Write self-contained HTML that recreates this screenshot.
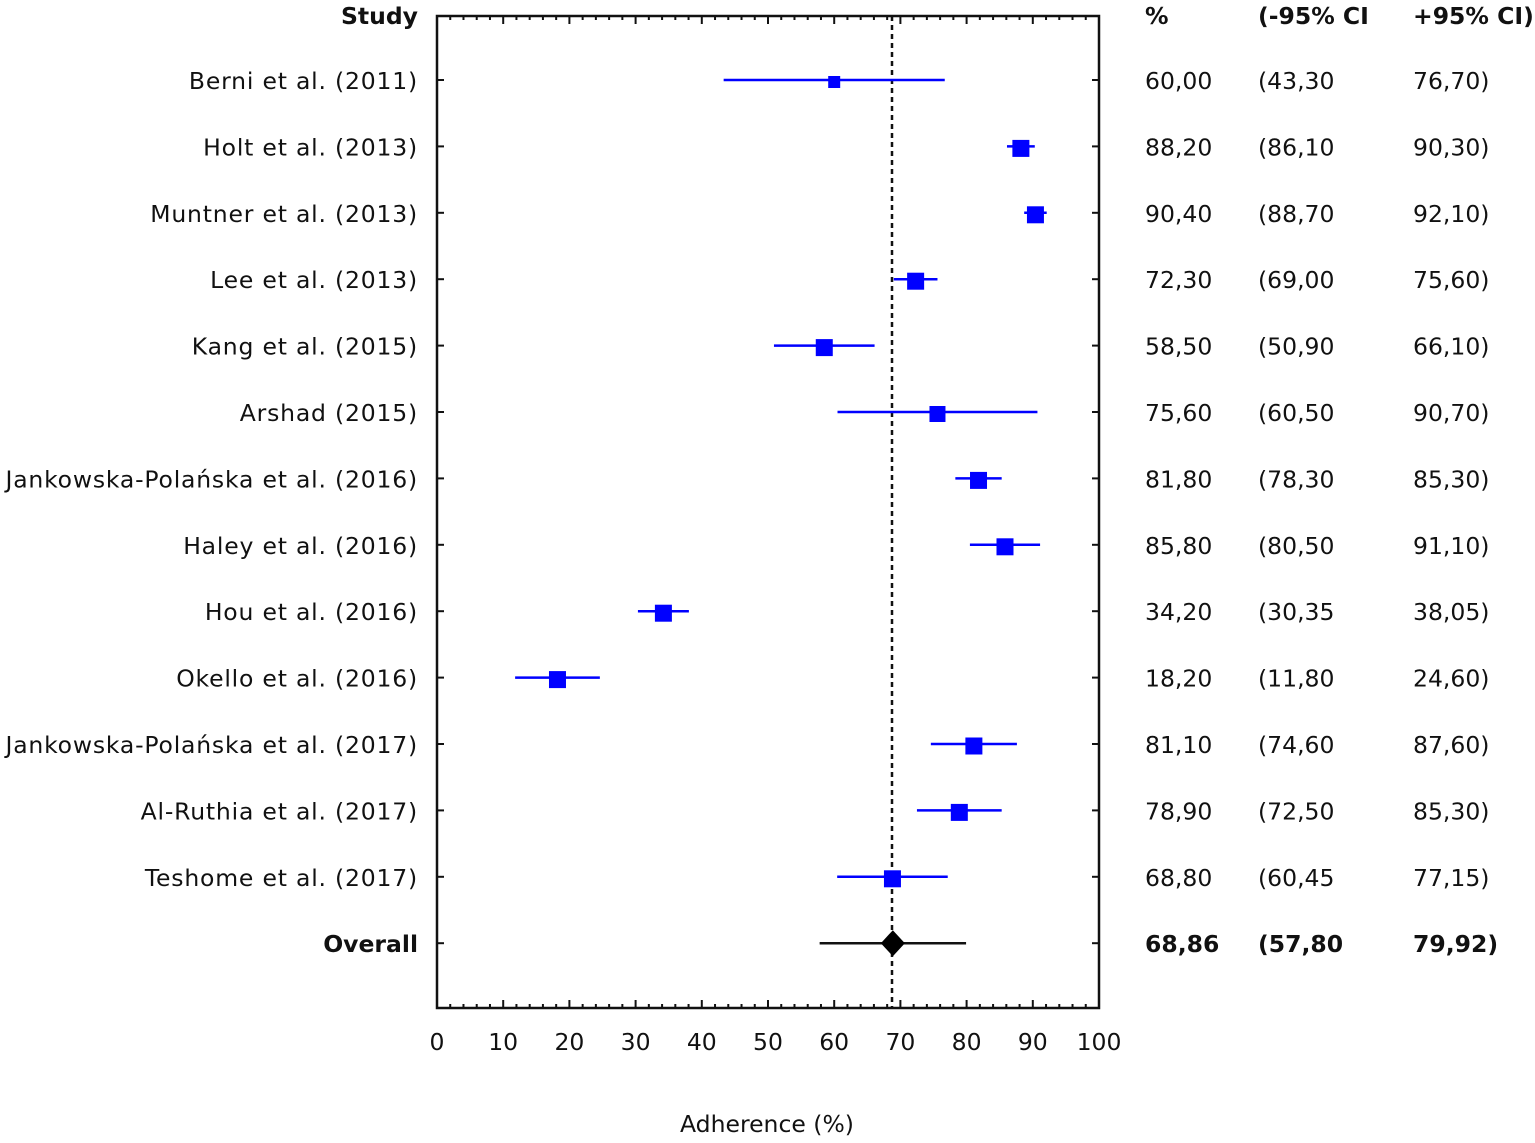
<!DOCTYPE html>
<html><head><meta charset="utf-8"><style>
html,body{margin:0;padding:0;background:#fff;width:1535px;height:1143px;overflow:hidden}
svg text{font-family:"DejaVu Sans",Verdana,sans-serif;font-size:23.5px;fill:#111}
svg text.lb{letter-spacing:0.8px}
</style></head><body>
<svg id="s" width="1535" height="1143" viewBox="0 0 1535 1143" xmlns="http://www.w3.org/2000/svg">
<rect x="437" y="16" width="662" height="992" fill="none" stroke="#111" stroke-width="2.5"/>
<line x1="892" y1="16" x2="892" y2="1008" stroke="#111" stroke-width="2.5" stroke-dasharray="5,4"/>
<text x="418" y="24" text-anchor="end" font-weight="bold">Study</text>
<text x="1145" y="24" font-weight="bold">%</text>
<text x="1258" y="24" font-weight="bold">(-95% CI</text>
<text x="1413" y="24" font-weight="bold">+95% CI)</text>
<text x="767" y="1132" text-anchor="middle">Adherence (%)</text>
<g id="g"></g>
</svg>
<script>
var g=document.getElementById('g'),h='';
function X(v){return 437+6.62*v;}
for(var v=0;v<=100;v+=2){var x=X(v),L=(v%10==0)?8:4;
h+='<line x1="'+x+'" y1="16" x2="'+x+'" y2="'+(16+L)+'" stroke="#111" stroke-width="2"/>';
h+='<line x1="'+x+'" y1="1008" x2="'+x+'" y2="'+(1008-L)+'" stroke="#111" stroke-width="2"/>';
if(v%10==0)h+='<text x="'+x+'" y="1050" text-anchor="middle">'+v+'</text>';}
var d=[["Berni et al. (2011)",60,43.3,76.7,"60,00","(43,30","76,70)",12],
["Holt et al. (2013)",88.2,86.1,90.3,"88,20","(86,10","90,30)",17],
["Muntner et al. (2013)",90.4,88.7,92.1,"90,40","(88,70","92,10)",17],
["Lee et al. (2013)",72.3,69,75.6,"72,30","(69,00","75,60)",17],
["Kang et al. (2015)",58.5,50.9,66.1,"58,50","(50,90","66,10)",17],
["Arshad (2015)",75.6,60.5,90.7,"75,60","(60,50","90,70)",16],
["Jankowska-Polańska et al. (2016)",81.8,78.3,85.3,"81,80","(78,30","85,30)",17],
["Haley et al. (2016)",85.8,80.5,91.1,"85,80","(80,50","91,10)",17],
["Hou et al. (2016)",34.2,30.35,38.05,"34,20","(30,35","38,05)",17],
["Okello et al. (2016)",18.2,11.8,24.6,"18,20","(11,80","24,60)",17],
["Jankowska-Polańska et al. (2017)",81.1,74.6,87.6,"81,10","(74,60","87,60)",17],
["Al-Ruthia et al. (2017)",78.9,72.5,85.3,"78,90","(72,50","85,30)",17],
["Teshome et al. (2017)",68.8,60.45,77.15,"68,80","(60,45","77,15)",17],
["Overall",68.86,57.8,79.92,"68,86","(57,80","79,92)",0]];
d.forEach(function(r,i){var y=80+66.4*i,b=(i==13)?' font-weight="bold"':'',lc=(i==13)?'':' class="lb"';
h+='<line x1="437" y1="'+y+'" x2="444" y2="'+y+'" stroke="#111" stroke-width="2"/>';
h+='<line x1="1092" y1="'+y+'" x2="1099" y2="'+y+'" stroke="#111" stroke-width="2"/>';
h+='<text x="418" y="'+(y+9)+'" text-anchor="end"'+b+lc+'>'+r[0]+'</text>';
h+='<text x="1145" y="'+(y+9)+'"'+b+'>'+r[4]+'</text>';
h+='<text x="1258" y="'+(y+9)+'"'+b+'>'+r[5]+'</text>';
h+='<text x="1413" y="'+(y+9)+'"'+b+'>'+r[6]+'</text>';
var c=X(r[1]);
if(i<13){h+='<line x1="'+X(r[2])+'" y1="'+y+'" x2="'+X(r[3])+'" y2="'+y+'" stroke="#0000ff" stroke-width="2.5"/>';
var s=r[7];h+='<rect x="'+(c-s/2)+'" y="'+(y+2-s/2)+'" width="'+s+'" height="'+s+'" fill="#0000ff"/>';}
else{h+='<line x1="'+X(r[2])+'" y1="'+y+'" x2="'+X(r[3])+'" y2="'+y+'" stroke="#111" stroke-width="2.5"/>';
h+='<polygon points="'+(c-12)+','+y+' '+c+','+(y-13)+' '+(c+12)+','+y+' '+c+','+(y+13)+'" fill="#000"/>';}
});
g.innerHTML=h;
</script>
</body></html>
